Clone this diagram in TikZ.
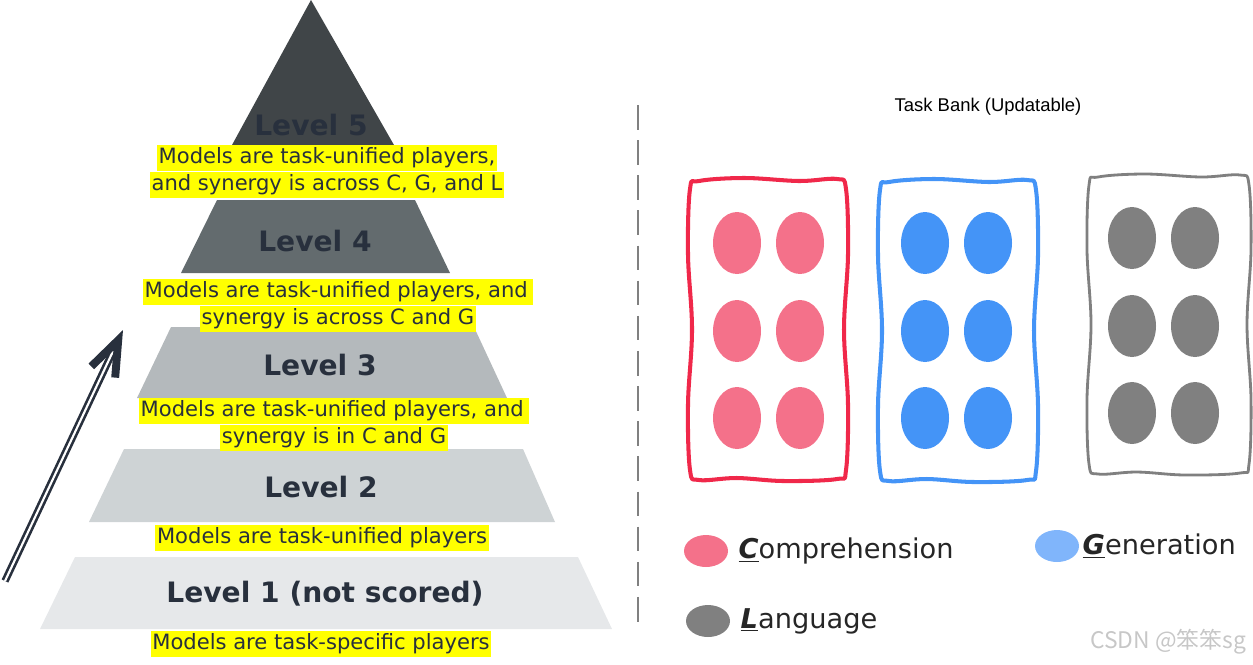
\documentclass[tikz,border=0pt]{standalone}
\usepackage{fontspec}
\setmainfont{DejaVu Sans}
\newfontfamily\arialfont{Liberation Sans}
\newfontfamily\cjk{Noto Sans CJK SC}
\usepackage{tikz}
\usetikzlibrary{positioning,arrows.meta,shapes.geometric}

\definecolor{lvlfive}{HTML}{404548}
\definecolor{lvlfour}{HTML}{636B6E}
\definecolor{lvlthree}{HTML}{B4B9BC}
\definecolor{lvltwo}{HTML}{CED3D5}
\definecolor{lvlone}{HTML}{E6E8EA}
\definecolor{navy}{HTML}{28303D}
\definecolor{hlyellow}{HTML}{FFFF00}
\definecolor{compred}{HTML}{F0284A}
\definecolor{compfill}{HTML}{F4718A}
\definecolor{genblue}{HTML}{4494F7}
\definecolor{genlight}{HTML}{80B5FB}
\definecolor{langgray}{HTML}{808080}

\tikzset{
  level/.style={font=\fontsize{16}{18}\selectfont\bfseries, text=navy},
  hl/.style={fill=hlyellow, text=navy, font=\fontsize{12}{14}\selectfont,
    inner xsep=1pt, inner ysep=0.6pt, text height=10pt, text depth=3.6pt},
  task/.style={ellipse, minimum width=0.96cm, minimum height=1.24cm, inner sep=0pt},
  key/.style={ellipse, minimum width=0.88cm, minimum height=0.64cm, inner sep=0pt},
  keytext/.style={font=\fontsize{15.5}{18}\selectfont, text=black!85, inner sep=0pt},
  bank/.style={line width=2.3pt, line join=round},
  climb/.style={draw=navy, double=white, double distance=1.2pt, line width=1.5pt,
    -{Straight Barb[length=20pt, width=15pt, line width=4.5pt]}}
}

% hand drawn box: style, left, top, right, bottom
\newcommand{\handbox}[5]{%
  \draw[#1] plot[smooth cycle, tension=0.6] coordinates {
    ({#2+9},{#3+1}) ({#2+(#4-#2)*0.35},{#3-2}) ({#2+(#4-#2)*0.7},{#3+1}) ({#4-9},{#3-1})
    (#4,{#3+9}) ({#4+2},{#3+(#5-#3)*0.25}) ({#4-2},{(#3+#5)/2}) ({#4+2},{#3+(#5-#3)*0.75}) (#4,{#5-9})
    ({#4-9},#5) ({#2+(#4-#2)*0.6},{#5+2}) ({#2+(#4-#2)*0.3},{#5-1}) ({#2+9},{#5+1})
    (#2,{#5-9}) ({#2-2},{#3+(#5-#3)*0.75}) ({#2+2},{(#3+#5)/2}) ({#2-2},{#3+(#5-#3)*0.25}) (#2,{#3+9})
  };
}

\begin{document}
\begin{tikzpicture}[x=0.02cm, y=-0.02cm]
  \useasboundingbox (0,0) rectangle (1253,664);

  % pyramid
  \fill[lvlfive]  (311,0) -- (394,145) -- (232,145) -- cycle;
  \fill[lvlfour]  (217,200) -- (415,200) -- (450,273) -- (181,273) -- cycle;
  \fill[lvlthree] (171,327) -- (474,327) -- (507,398) -- (137,398) -- cycle;
  \fill[lvltwo]   (124,449) -- (523,449) -- (555,522) -- (89,522) -- cycle;
  \fill[lvlone]   (75,557) -- (578,557) -- (612,629) -- (40,629) -- cycle;

  \node[level] (l5) at (311,125) {Level 5};
  \node[level] (l4) at (315,241) {Level 4};
  \node[level] (l3) at (320,365) {Level 3};
  \node[level] (l2) at (321,487) {Level 2};
  \node[level] (l1) at (325,594) {Level 1 (not scored)};

  \node[hl] (c5a) at (327,158) {Models are task-unified players,};
  \node[hl, below=0pt of c5a] (c5b) {and synergy is across C, G, and L};
  \node[hl] (c4a) at (338,292) {Models are task-unified players, and\,};
  \node[hl, below=0pt of c4a] (c4b) {synergy is across C and G};
  \node[hl] (c3a) at (334,411) {Models are task-unified players, and\,};
  \node[hl, below=0pt of c3a] (c3b) {synergy is in C and G};
  \node[hl] (c2) at (322,538) {Models are task-unified players};
  \node[hl] (c1) at (321,644) {Models are task-specific players};

  \coordinate (foot) at (5,581);
  \coordinate (peak) at (123,330);
  \draw[climb] (foot) -- (peak);

  % separator
  \coordinate (sep top) at (638,105);
  \coordinate (sep bot) at (638,630);
  \draw[langgray, line width=1.6pt, dash pattern=on 14pt off 6pt] (sep top) -- (sep bot);

  % task bank
  \node[font=\arialfont\fontsize{10.5}{12}\selectfont] (bank) at (988,107) {Task Bank (Updatable)};

  \handbox{bank, compred}{690}{180}{846}{479}
  \handbox{bank, genblue}{880}{181}{1036}{480}
  \handbox{bank, langgray, line width=1.6pt}{1089}{176}{1249}{473}

  \foreach \r/\y in {1/243,2/331,3/418} {
    \node[task, fill=compfill] (c\r a) at (737,\y) {};
    \node[task, fill=compfill] (c\r b) at (800,\y) {};
    \node[task, fill=genblue]  (g\r a) at (925,\y) {};
    \node[task, fill=genblue]  (g\r b) at (988,\y) {};
    \node[task, fill=langgray] (l\r a) at (1132,\y-5) {};
    \node[task, fill=langgray] (l\r b) at (1195,\y-5) {};
  }

  % legend
  \node[key, fill=compfill] (kc) at (706,551) {};
  \node[keytext, right=0.2cm of kc] (kct) {\underline{\textbf{\textit{C}}}omprehension};
  \node[key, fill=genlight] (kg) at (1057,546) {};
  \node[keytext, right=0.06cm of kg] (kgt) {\underline{\textbf{\textit{G}}}eneration};
  \node[key, fill=langgray] (kl) at (708,621) {};
  \node[keytext, right=0.2cm of kl] (klt) {\underline{\textbf{\textit{L}}}anguage};

  \node[font=\cjk\fontsize{13}{15}\selectfont, text=black!22] (mark) at (1168,642) {CSDN @笨笨sg};
\end{tikzpicture}
\end{document}
